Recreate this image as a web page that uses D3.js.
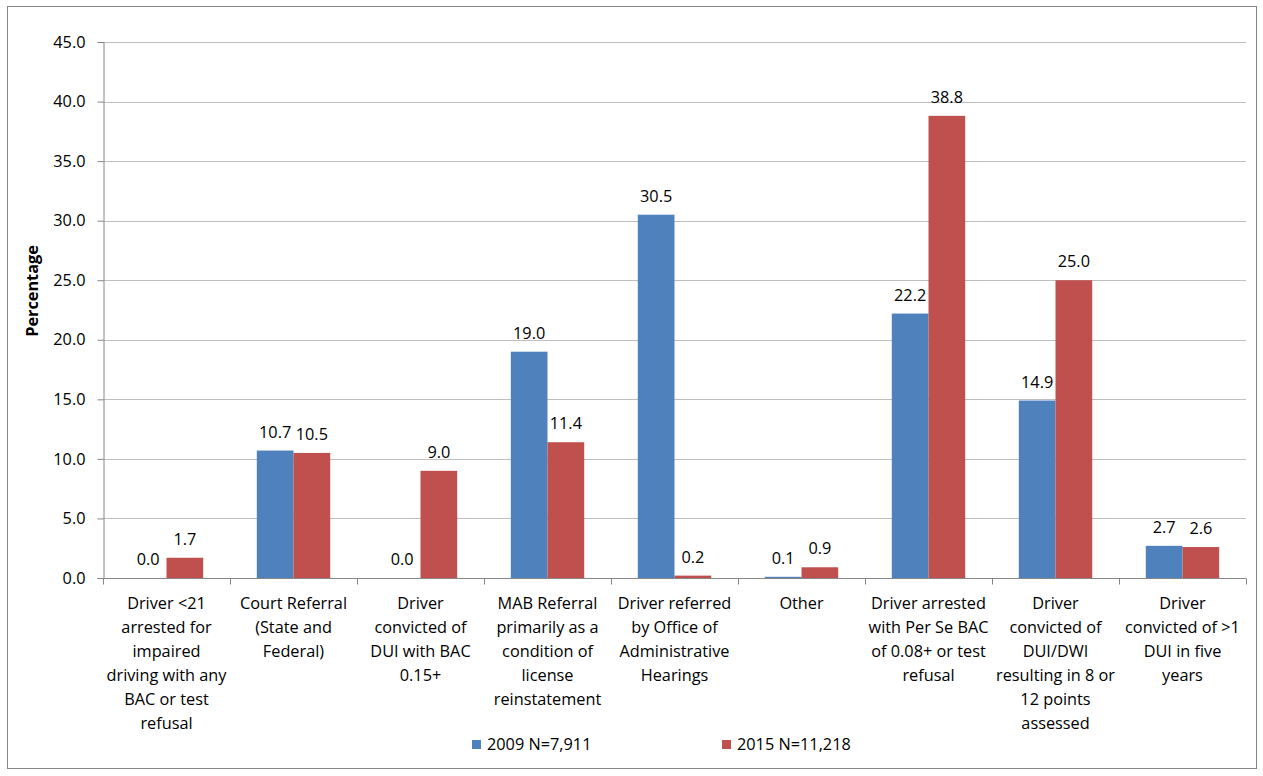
<!DOCTYPE html>
<html><head><meta charset="utf-8">
<script src="https://cdn.jsdelivr.net/npm/d3@7"></script>
<style>body{margin:0;background:#fff}svg{display:block}text{font-family:"Open Sans",sans-serif;fill:#000}</style>
</head><body>
<svg id="c" width="1263" height="776"></svg>
<script>
const categories = [
  ["Driver <21","arrested for","impaired","driving with any","BAC or test","refusal"],
  ["Court Referral","(State and","Federal)"],
  ["Driver","convicted of","DUI with BAC","0.15+"],
  ["MAB Referral","primarily as a","condition of","license","reinstatement"],
  ["Driver referred","by Office of","Administrative","Hearings"],
  ["Other"],
  ["Driver arrested","with Per Se BAC","of 0.08+ or test","refusal"],
  ["Driver","convicted of","DUI/DWI","resulting in 8 or","12 points","assessed"],
  ["Driver","convicted of >1","DUI in five","years"]
];
const seriesNames = ["2009 N=7,911","2015 N=11,218"];
const values2009 = [0.0,10.7,0.0,19.0,30.5,0.1,22.2,14.9,2.7];
const values2015 = [1.7,10.5,9.0,11.4,0.2,0.9,38.8,25.0,2.6];
const yTicks = [0,5,10,15,20,25,30,35,40,45];
const colors = ["#4F81BD","#C0504D"];
const FS = 16.3;

const svg = d3.select("#c");
const L = 103, R = 1246, T = 42, B = 578;
svg.append("rect").attr("x",7.5).attr("y",6.5).attr("width",1249).attr("height",762)
  .attr("fill","#fff").attr("stroke","#868686").attr("stroke-width",1);

const x = d3.scaleBand().domain(d3.range(categories.length)).range([L,R]);
const inner = d3.scaleBand().domain([0,1]).range([0,x.bandwidth()]).paddingInner(0).paddingOuter(0.73);
const y = d3.scaleLinear().domain([0,45]).range([B,T]);

// gridlines
svg.append("g").selectAll("line").data(yTicks.filter(d=>d>0)).join("line")
  .attr("x1",L).attr("x2",R).attr("y1",d=>Math.round(y(d))+0.5).attr("y2",d=>Math.round(y(d))+0.5)
  .attr("stroke","#BFBFBF").attr("stroke-width",1);

// y axis
const ya = svg.append("g").attr("transform",`translate(${L+0.5},0)`)
  .call(d3.axisLeft(y).tickValues(yTicks).tickFormat(d3.format(".1f")).tickSize(6).tickPadding(12));
ya.select(".domain").attr("stroke","#868686");
ya.selectAll(".tick line").attr("stroke","#868686");
ya.selectAll("text").attr("font-size",FS).attr("font-family","'Open Sans',sans-serif");

// bars
const data = categories.map((c,i)=>[values2009[i],values2015[i]]);
const groups = svg.append("g").selectAll("g").data(data).join("g")
  .attr("transform",(d,i)=>`translate(${x(i)},0)`);
groups.selectAll("rect").data(d=>d).join("rect")
  .attr("x",(d,j)=>inner(j)).attr("width",inner.bandwidth())
  .attr("y",d=>y(d)).attr("height",d=>B-y(d)).attr("fill",(d,j)=>colors[j]);
groups.selectAll("text").data(d=>d).join("text")
  .attr("x",(d,j)=>inner(j)+inner.bandwidth()/2).attr("y",d=>y(d)-13)
  .attr("text-anchor","middle").attr("font-size",FS).text(d=>d.toFixed(1));

// x axis
const xa = svg.append("g").attr("transform",`translate(0,${B+0.5})`);
xa.append("line").attr("x1",L).attr("x2",R).attr("stroke","#868686");
xa.selectAll(".tk").data(d3.range(categories.length+1)).join("line")
  .attr("x1",i=>Math.round(L+i*x.step())+0.5).attr("x2",i=>Math.round(L+i*x.step())+0.5)
  .attr("y1",0).attr("y2",6).attr("stroke","#868686");
categories.forEach((lines,i)=>{
  const t = xa.append("text").attr("text-anchor","middle").attr("font-size",FS)
    .attr("x",x(i)+x.bandwidth()/2).attr("y",30);
  lines.forEach((ln,k)=>t.append("tspan").attr("x",x(i)+x.bandwidth()/2).attr("dy",k?24:0).text(ln));
});

// y label
svg.append("text").attr("transform","translate(38,291) rotate(-90)").attr("text-anchor","middle")
  .attr("font-size",FS).attr("font-weight","bold").text("Percentage");

// legend
const lx = [472,722];
const lg = svg.append("g").selectAll("g").data(seriesNames).join("g")
  .attr("transform",(d,i)=>`translate(${lx[i]},740)`);
lg.append("rect").attr("width",9).attr("height",9).attr("fill",(d,i)=>colors[i]);
lg.append("text").attr("x",15).attr("y",10).attr("font-size",FS).text(d=>d);
</script>
</body></html>
